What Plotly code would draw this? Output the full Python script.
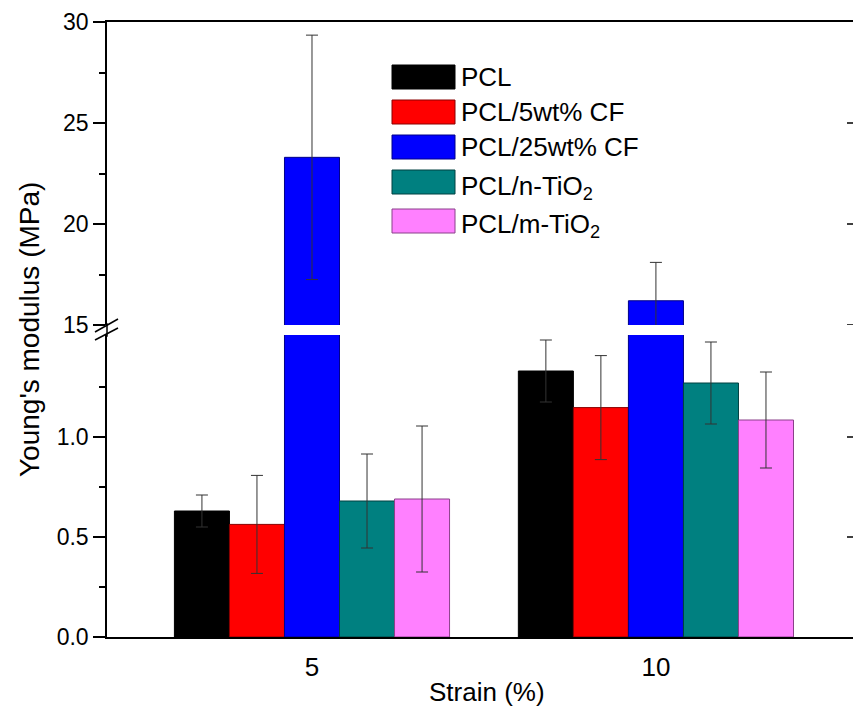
import plotly.graph_objects as go

# ---------------- data ----------------
strain = ["5", "10"]
series_names = ["PCL", "PCL/5wt% CF", "PCL/25wt% CF", "PCL/n-TiO<sub>2</sub>", "PCL/m-TiO<sub>2</sub>"]
pcl = [0.63, 1.33]
pcl_err = [0.08, 0.155]
cf5 = [0.563, 1.147]
cf5_err = [0.245, 0.26]
cf25 = [23.3, 16.2]
cf25_err = [6.05, 1.9]
ntio2 = [0.68, 1.27]
ntio2_err = [0.235, 0.205]
mtio2 = [0.69, 1.085]
mtio2_err = [0.365, 0.24]
colors = ["#000000", "#FF0000", "#0000FF", "#008080", "#FF80FF"]
edge_colors = ["#000000", "#8a0000", "#00008a", "#004040", "#8a408a"]

lower_ticks = [0.0, 0.5, 1.0]
lower_ticktext = ["0.0", "0.5", "1.0"]
upper_ticks = [15, 20, 25, 30]
upper_ticktext = ["15", "20", "25", "30"]
right_lower_ticks = [0.5, 1.0]
right_upper_ticks = [15, 20, 25]

values = [pcl, cf5, cf25, ntio2, mtio2]
errors = [pcl_err, cf5_err, cf25_err, ntio2_err, mtio2_err]

# ---------------- geometry (pixels) ----------------
W, H = 853, 718
L, T, B = 107, 22, 637   # plot area left, top, bottom
R = 0
PW = W - L - R
PH = B - T
FONT = "Arial, Liberation Sans, sans-serif"


def px_x(px):
    return (px - L) / PW


def px_y(py):
    return (B - py) / PH


low_top = px_y(335)
up_bot = px_y(325)

fig = go.Figure()

for i in range(5):
    common = dict(
        x=strain,
        y=values[i],
        marker=dict(color=colors[i], line=dict(color=edge_colors[i], width=1)),
        error_y=dict(type="data", array=errors[i], visible=True,
                     color="#333333", thickness=1, width=6),
        showlegend=False,
        name=series_names[i],
    )
    fig.add_trace(go.Bar(xaxis="x", yaxis="y", **common))
    fig.add_trace(go.Bar(xaxis="x2", yaxis="y2", **common))

xrange = [-0.596, 1.573]
axis_font = dict(family=FONT, size=23, color="black")

fig.update_layout(
    width=W, height=H,
    margin=dict(l=L, r=R, t=T, b=H - B, pad=0),
    paper_bgcolor="white", plot_bgcolor="white",
    barmode="group", bargap=0.2, bargroupgap=0,
    font=dict(family=FONT, color="black"),
    xaxis=dict(domain=[0, 1], anchor="y", range=xrange, type="category",
               showline=True, linecolor="black", linewidth=1.5,
               ticks="", showgrid=False, zeroline=False,
               tickfont=dict(family=FONT, size=26, color="black"),
               ticklabelstandoff=6),
    xaxis2=dict(domain=[0, 1], anchor="y2", range=xrange, type="category",
                matches="x", side="top", showline=True, linecolor="black",
                linewidth=1.5, ticks="", showticklabels=False,
                showgrid=False, zeroline=False),
    yaxis=dict(domain=[0, low_top], anchor="x", range=[0, 1.51],
               tickvals=lower_ticks, ticktext=lower_ticktext,
               ticks="outside", ticklen=12, tickwidth=1.5, tickcolor="black",
               minor=dict(tickvals=[0.25, 0.75, 1.25], ticks="outside",
                          ticklen=6, tickwidth=1.5, tickcolor="black"),
               showline=True, linecolor="black", linewidth=1.5,
               showgrid=False, zeroline=False, tickfont=axis_font),
    yaxis2=dict(domain=[up_bot, 1], anchor="x2", range=[15, 30],
                tickvals=upper_ticks, ticktext=upper_ticktext,
                ticks="outside", ticklen=12, tickwidth=1.5, tickcolor="black",
                minor=dict(tickvals=[17.5, 22.5, 27.5], ticks="outside",
                           ticklen=6, tickwidth=1.5, tickcolor="black"),
                showline=True, linecolor="black", linewidth=1.5,
                showgrid=False, zeroline=False, tickfont=axis_font),
)

shapes = []
annotations = []

# fill the axis line through the break and draw the break marks
shapes.append(dict(type="line", xref="paper", yref="paper",
                   x0=0, x1=0, y0=low_top - 0.003, y1=up_bot + 0.003,
                   line=dict(color="black", width=1.5)))
for (a, b) in [((95, 332), (118, 319)), ((95, 340), (118, 328))]:
    shapes.append(dict(type="line", xref="paper", yref="paper",
                       x0=px_x(a[0]), y0=px_y(a[1]), x1=px_x(b[0]), y1=px_y(b[1]),
                       line=dict(color="black", width=1.5)))

# right-hand (cropped) axis tick marks
for v in right_lower_ticks:
    shapes.append(dict(type="line", xref="paper", yref="y",
                       x0=px_x(847), x1=1, y0=v, y1=v,
                       line=dict(color="black", width=1.5)))
for v in right_upper_ticks:
    shapes.append(dict(type="line", xref="paper", yref="y2",
                       x0=px_x(847), x1=1, y0=v, y1=v,
                       line=dict(color="black", width=1.5)))

# manual legend with large swatches
box_tops = [65, 100, 135, 170, 209]
for i, name in enumerate(series_names):
    top = box_tops[i]
    shapes.append(dict(type="rect", xref="paper", yref="paper",
                       x0=px_x(392), x1=px_x(455), y0=px_y(top + 24), y1=px_y(top),
                       fillcolor=colors[i], line=dict(color=edge_colors[i], width=1)))
    dy = 5 if "<sub>" in name else 0
    annotations.append(dict(text=name, xref="paper", yref="paper",
                            x=px_x(459), y=px_y(top + 12 + dy),
                            xanchor="left", yanchor="middle", showarrow=False,
                            font=dict(family=FONT, size=26, color="black")))

# axis titles
annotations.append(dict(text="Young's modulus (MPa)", xref="paper", yref="paper",
                        x=px_x(30), y=px_y(330), textangle=-90,
                        xanchor="center", yanchor="middle", showarrow=False,
                        font=dict(family=FONT, size=28, color="black")))
annotations.append(dict(text="Strain (%)", xref="paper", yref="paper",
                        x=px_x(487), y=px_y(692),
                        xanchor="center", yanchor="middle", showarrow=False,
                        font=dict(family=FONT, size=26, color="black")))

fig.update_layout(shapes=shapes, annotations=annotations)

fig.write_html("out.html", config={"displayModeBar": False},
               post_script="document.body.style.margin='0px';")
